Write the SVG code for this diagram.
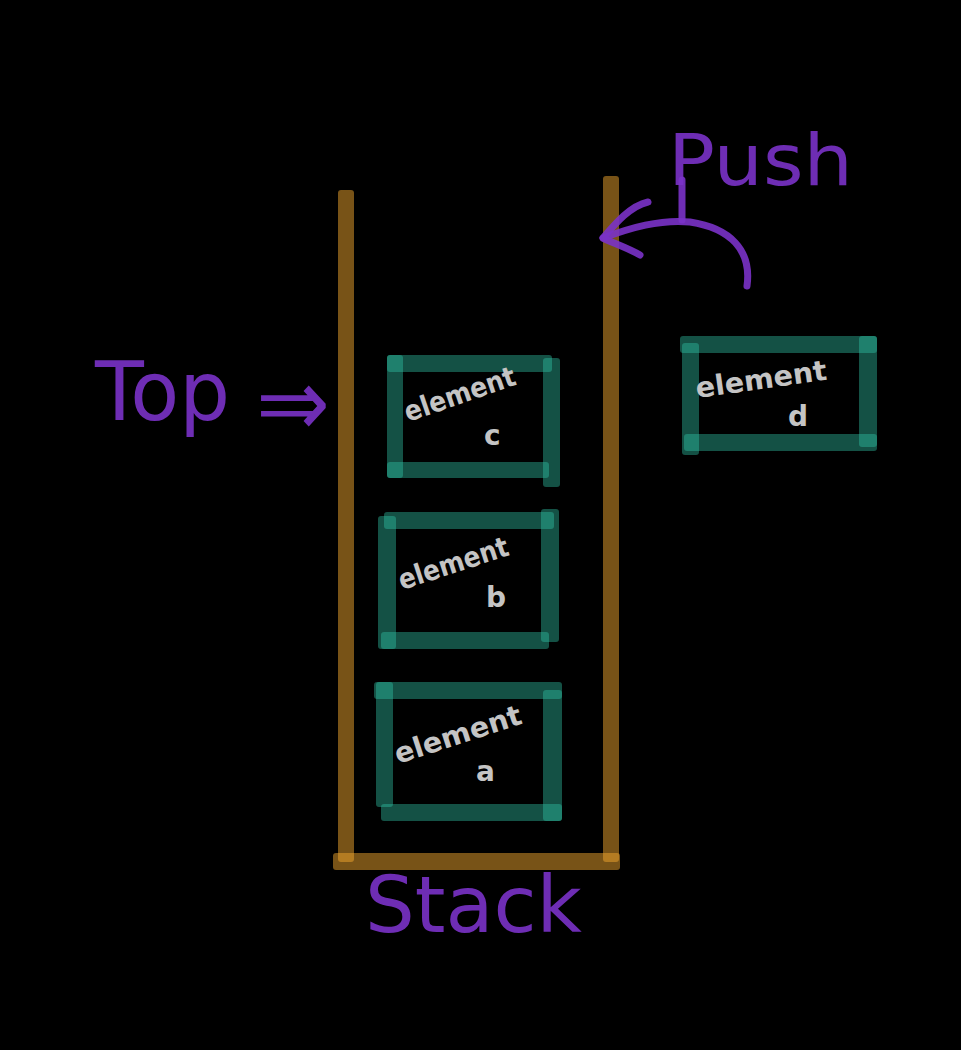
<svg xmlns="http://www.w3.org/2000/svg" width="961" height="1050" viewBox="0 0 961 1050">
<style>
.wall{fill:#f0a52d;fill-opacity:0.5}
.bar{fill:#2fc0a4;fill-opacity:0.42}
.el{font-family:"DejaVu Sans",sans-serif;fill:#c4c4c4;font-size:28px;font-weight:bold}
.hand{font-family:"DejaVu Sans",sans-serif;fill:#7a32c8;fill-opacity:0.9}
.ink{fill:none;stroke:#7a32c8;stroke-opacity:0.9;stroke-width:7;stroke-linecap:round;stroke-linejoin:round}
</style>
<rect width="961" height="1050" fill="#000"/>
<g id="stack">
<rect class="wall" x="338" y="190" width="16" height="672" rx="3"/>
<rect class="wall" x="603" y="176" width="16" height="686" rx="3"/>
<rect class="wall" x="333" y="853" width="287" height="17" rx="3"/>
<text class="hand" x="365" y="932" font-size="78" textLength="217" lengthAdjust="spacingAndGlyphs">Stack</text>
</g>
<g id="element-c">
<rect class="bar" x="387" y="355" width="165" height="17" rx="3"/>
<rect class="bar" x="543" y="358" width="17" height="129" rx="3"/>
<rect class="bar" x="387" y="355" width="16" height="123" rx="3"/>
<rect class="bar" x="387" y="462" width="162" height="16" rx="3"/>
<text class="el" transform="translate(408,422) rotate(-19)" textLength="116" lengthAdjust="spacingAndGlyphs">element</text>
<text class="el" x="484" y="445" font-size="50">c</text>
</g>
<g id="element-b">
<rect class="bar" x="384" y="512" width="170" height="17" rx="3"/>
<rect class="bar" x="378" y="516" width="18" height="133" rx="3"/>
<rect class="bar" x="381" y="632" width="168" height="17" rx="3"/>
<rect class="bar" x="541" y="509" width="18" height="133" rx="3"/>
<text class="el" transform="translate(402,590) rotate(-18)" textLength="114" lengthAdjust="spacingAndGlyphs">element</text>
<text class="el" x="486" y="607" font-size="32">b</text>
</g>
<g id="element-a">
<rect class="bar" x="374" y="682" width="188" height="17" rx="3"/>
<rect class="bar" x="376" y="682" width="17" height="125" rx="3"/>
<rect class="bar" x="381" y="804" width="181" height="17" rx="3"/>
<rect class="bar" x="543" y="690" width="19" height="131" rx="3"/>
<text class="el" transform="translate(398,764) rotate(-18)" textLength="132" lengthAdjust="spacingAndGlyphs">element</text>
<text class="el" x="476" y="781" font-size="36">a</text>
</g>
<g id="element-d">
<rect class="bar" x="680" y="336" width="197" height="17" rx="3"/>
<rect class="bar" x="682" y="343" width="17" height="112" rx="3"/>
<rect class="bar" x="684" y="434" width="193" height="17" rx="3"/>
<rect class="bar" x="859" y="336" width="18" height="111" rx="3"/>
<text class="el" transform="translate(697,398) rotate(-8)" textLength="132" lengthAdjust="spacingAndGlyphs">element</text>
<text class="el" x="788" y="426" font-size="40">d</text>
</g>
<g id="top-label">
<text class="hand" x="95" y="420" font-size="82" textLength="135" lengthAdjust="spacingAndGlyphs">Top</text>
<text class="hand" x="256" y="436" font-size="96" textLength="74" lengthAdjust="spacingAndGlyphs">⇒</text>
</g>
<g id="push-label">
<text class="hand" x="668" y="185" font-size="72" textLength="185" lengthAdjust="spacingAndGlyphs">Push</text>
</g>
<g id="connectors">
<path class="ink" d="M682,180 L682,220"/>
<path class="ink" d="M747,286 C752,250 730,228 690,222 C660,219 630,228 603,238"/>
<path class="ink" d="M648,202 C630,206 615,224 603,238 C615,244 628,248 640,255"/>
</g>
</svg>
